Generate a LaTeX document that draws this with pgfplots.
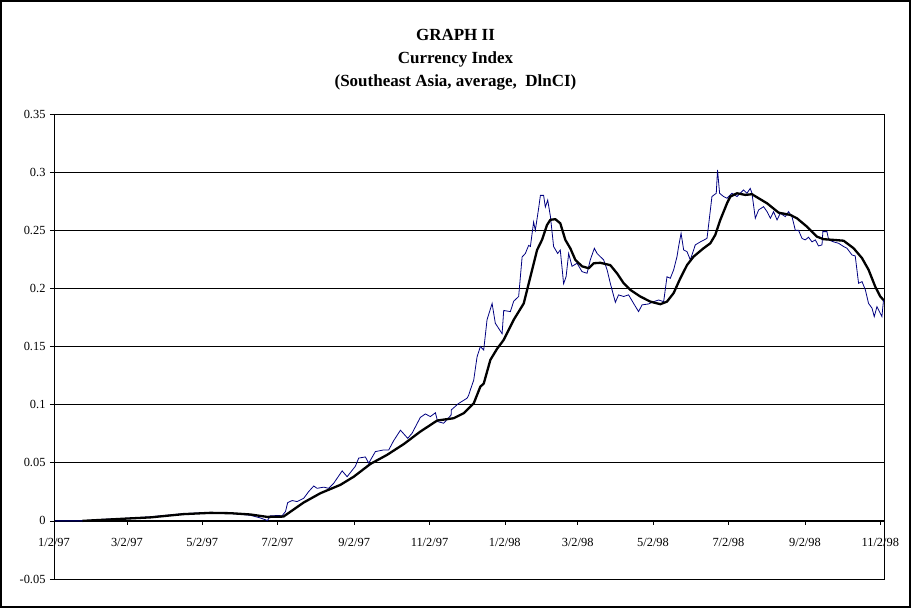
\documentclass[border=0pt]{standalone}
\usepackage{pgfplots}
\pgfplotsset{compat=1.18}
\usepackage{fontspec}
\setmainfont{Liberation Serif}
\definecolor{navyline}{RGB}{0,0,128}

\begin{document}
\begin{tikzpicture}
\path[use as bounding box] (0pt,0pt) rectangle (911pt,608pt);
\draw[line width=1.5pt] (1pt,1pt) rectangle (910pt,607pt);
\node[anchor=base,font=\bfseries\fontsize{17}{20}\selectfont] at (455.5pt,567pt) {GRAPH II};
\node[anchor=base,font=\bfseries\fontsize{17}{20}\selectfont] at (455.5pt,544pt) {Currency Index};
\node[anchor=base,font=\bfseries\fontsize{17}{20}\selectfont] at (455.5pt,521pt) {(Southeast Asia, average,\ \ DlnCI)};
\begin{axis}[
  at={(54pt,29pt)}, anchor=south west,
  scale only axis, width=830pt, height=465pt,
  xmin=0, xmax=672, ymin=-0.05, ymax=0.35,
  axis x line*=middle, axis y line*=left,
  hide obscured x ticks=false, hide obscured y ticks=false,
  xtick={0,59,120,181,243,304,365,424,485,546,608,669},
  xticklabels={1/2/97,3/2/97,5/2/97,7/2/97,9/2/97,11/2/97,1/2/98,3/2/98,5/2/98,7/2/98,9/2/98,11/2/98},
  ytick={-0.05,0,0.05,0.1,0.15,0.2,0.25,0.3,0.35},
  yticklabels={-0.05,0,0.05,0.1,0.15,0.2,0.25,0.3,0.35},
  xtick align=outside, ytick align=outside,
  major tick length=4pt,
  tick style={black, line width=0.6pt},
  tick label style={font=\fontsize{12.4}{14}\selectfont},
  xticklabel style={yshift=-10pt},
  yticklabel style={xshift=-1pt},
  ymajorgrids, grid style={black, line width=0.6pt},
  axis line style={black, line width=0.8pt},
  clip=false,
]
\addplot[navyline, line width=0.8pt] coordinates {
(0.4,0) (23.1,0) (37.6,0.0012) (58.7,0.0022) (78.1,0.0035) (104.8,0.0062) (126.7,0.0072)
(142.9,0.0065) (159.0,0.0048) (167.1,0.0025) (172.8,0.0003) (175.2,0.0043) (180.7,0.0046)
(184.7,0.0044) (187.4,0.008) (189.2,0.0157) (192.8,0.0175) (196.8,0.0166) (202.2,0.0195)
(206.2,0.0252) (210.3,0.030) (213.0,0.028) (218.4,0.029) (222.4,0.028) (226.5,0.0324)
(233.3,0.043) (237.3,0.038) (244.0,0.047) (246.7,0.054) (252.1,0.055) (254.8,0.0496)
(260.2,0.0596) (266.9,0.061) (271.0,0.061) (275.0,0.069) (280.5,0.078) (286.4,0.071)
(289.9,0.0754) (296.6,0.089) (300.7,0.092) (304.7,0.0897) (308.8,0.093) (310.6,0.0854)
(315.5,0.084) (321.5,0.091) (321.7,0.0955) (327.6,0.101) (334.4,0.1055) (335.7,0.108)
(337.1,0.1127) (339.8,0.121) (342.5,0.141) (345.2,0.150) (347.9,0.147) (350.6,0.173)
(354.7,0.187) (357.3,0.170) (362.8,0.161) (364.1,0.181) (369.5,0.180) (372.2,0.189)
(376.2,0.193) (379.0,0.227) (381.6,0.230) (384.3,0.237) (385.7,0.236) (388.3,0.257)
(389.7,0.250) (392.4,0.269) (393.8,0.280) (396.4,0.280) (397.8,0.270) (399.7,0.276)
(401.9,0.262) (404.5,0.236) (407.8,0.230) (409.9,0.233) (412.6,0.204) (414.6,0.210)
(416.7,0.230) (419.4,0.219) (423.5,0.2216) (427.5,0.2144) (431.6,0.213) (434.2,0.2245)
(437.5,0.2345) (439.7,0.230) (445.0,0.2245) (447.8,0.216) (450.4,0.2044) (454.5,0.188)
(457.1,0.1944) (461.2,0.193) (465.2,0.1944) (469.3,0.187) (473.3,0.180) (476.1,0.1858)
(481.4,0.1866) (485.5,0.1886) (489.5,0.190) (493.6,0.1886) (496.3,0.210) (499.0,0.2087)
(501.7,0.216) (504.4,0.2273) (505.7,0.236) (507.7,0.2474) (509.8,0.233) (512.5,0.2316)
(515.2,0.2245) (519.2,0.2374) (523.3,0.240) (528.7,0.243) (530.0,0.2546) (532.7,0.279)
(536.2,0.2818) (537.2,0.3019) (538.9,0.2818) (542.1,0.279) (544.9,0.2775) (548.9,0.2818)
(553.0,0.279) (558.3,0.2847) (561.0,0.2818) (563.7,0.286) (565.1,0.2818) (567.8,0.2603)
(570.5,0.2675) (574.5,0.2703) (577.3,0.266) (580.0,0.2603) (582.6,0.266) (585.4,0.2589)
(588.0,0.2646) (592.1,0.2617) (594.7,0.266) (597.5,0.2617) (600.2,0.250) (602.8,0.250)
(605.6,0.243) (608.2,0.2417) (610.9,0.244) (613.7,0.240) (616.4,0.2417) (619.0,0.2365)
(621.8,0.2374) (622.5,0.2488) (625.8,0.2488) (627.2,0.2417) (631.2,0.240) (635.2,0.2388)
(639.3,0.236) (642.0,0.2345) (646.1,0.2287) (648.7,0.2279) (651.4,0.2044) (654.2,0.2058)
(656.9,0.1987) (659.5,0.187) (662.3,0.183) (664.1,0.1757) (666.3,0.1843) (669.0,0.1786)
(670.3,0.1757) (671.6,0.190)
};
\addplot[black, line width=2.3pt, line join=round] coordinates {
(23.1,0) (59.2,0.002) (78.1,0.003) (104.8,0.0058) (126.7,0.0069) (142.9,0.0066)
(159.0,0.0055) (172.8,0.0034) (185.8,0.0037) (202.0,0.0157) (215.7,0.0238) (231.9,0.031)
(242.7,0.038) (256.2,0.049) (269.7,0.0568) (283.1,0.066) (296.6,0.0768) (310.2,0.0863)
(323.6,0.0883) (331.7,0.0926) (337.1,0.0983) (339.8,0.101) (345.2,0.1155) (347.9,0.118)
(353.3,0.1385) (358.7,0.148) (364.1,0.1557) (372.2,0.173) (380.3,0.187) (385.7,0.210)
(391.1,0.233) (395.1,0.2417) (399.2,0.2546) (401.9,0.259) (405.9,0.2595) (409.9,0.256)
(414.0,0.2417) (418.0,0.2345) (422.1,0.2245) (427.5,0.219) (432.9,0.2173) (436.9,0.2216)
(442.3,0.222) (450.4,0.220) (455.8,0.213) (461.2,0.2044) (466.6,0.1987) (474.7,0.193)
(482.8,0.1886) (490.9,0.1864) (496.3,0.1886) (501.7,0.196) (507.1,0.2087) (512.5,0.220)
(517.8,0.2273) (525.9,0.2345) (531.4,0.2388) (535.4,0.246) (539.5,0.259) (544.9,0.2732)
(547.6,0.279) (553.0,0.2818) (559.7,0.2804) (565.1,0.281) (570.5,0.2775) (577.3,0.2732)
(586.7,0.2651) (596.1,0.2632) (601.5,0.2603) (609.6,0.2531) (617.7,0.2445) (623.1,0.2423)
(631.2,0.2417) (639.3,0.241) (647.4,0.2345) (654.2,0.226) (659.5,0.216) (664.9,0.2015)
(669.0,0.193) (671.6,0.190)
};
\draw[black, line width=0.8pt] (rel axis cs:0,0) rectangle (rel axis cs:1,1);
\end{axis}
\end{tikzpicture}
\end{document}
